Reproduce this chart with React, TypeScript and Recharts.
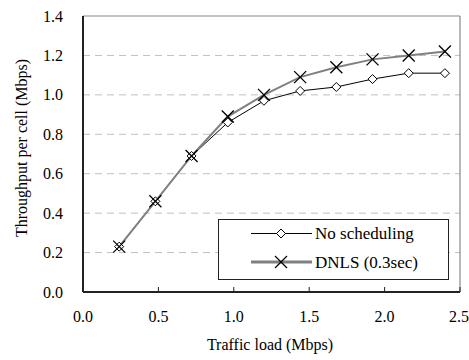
import React from 'react';
import { LineChart, Line, XAxis, YAxis, ReferenceLine, Legend, Customized } from 'recharts';

const trafficLoad = [0.24, 0.48, 0.72, 0.96, 1.2, 1.44, 1.68, 1.92, 2.16, 2.4];
const noScheduling = [0.23, 0.46, 0.69, 0.86, 0.97, 1.02, 1.04, 1.08, 1.11, 1.11];
const dnls = [0.23, 0.46, 0.69, 0.89, 1.0, 1.09, 1.14, 1.18, 1.2, 1.22];
const xTicks = [0, 0.5, 1.0, 1.5, 2.0, 2.5];
const yTicks = [0, 0.2, 0.4, 0.6, 0.8, 1.0, 1.2, 1.4];
const gridValues = [0.2, 0.4, 0.6, 0.8, 1.0, 1.2];
const seriesNames = ['No scheduling', 'DNLS (0.3sec)'];

const FONT = 'Times New Roman, Liberation Serif, serif';

const data = trafficLoad.map((x, i) => ({ x, noSched: noScheduling[i], dnls: dnls[i] }));

const Diamond = ({ cx, cy }: any) => {
    if (cx == null || cy == null) return null;
    const r = 4.5;
    return (
        <path
            d={`M${cx},${cy - r} L${cx + r},${cy} L${cx},${cy + r} L${cx - r},${cy} Z`}
            fill="#fff"
            stroke="#000"
            strokeWidth={1}
        />
    );
};

const Cross = ({ cx, cy }: any) => {
    if (cx == null || cy == null) return null;
    const r = 6;
    return (
        <g stroke="#000" strokeWidth={1.3}>
            <line x1={cx - r} y1={cy - r} x2={cx + r} y2={cy + r} />
            <line x1={cx - r} y1={cy + r} x2={cx + r} y2={cy - r} />
        </g>
    );
};

const XTick = ({ x, y, payload }: any) => (
    <text x={x} y={y} dy={12} textAnchor="middle" fontSize={16} fill="#000" style={{ fontFamily: FONT }}>
        {Number(payload.value).toFixed(1)}
    </text>
);

const YTick = ({ x, y, payload }: any) => (
    <text x={x} y={y} dy={5.5} textAnchor="end" fontSize={16} fill="#000" style={{ fontFamily: FONT }}>
        {Number(payload.value).toFixed(1)}
    </text>
);

const renderLegend = () => (
    <svg width={231} height={61} style={{ display: 'block' }}>
        <rect x={0.5} y={0.5} width={230} height={60} fill="#fff" stroke="#222" strokeWidth={1} />
        <line x1={33} y1={14.5} x2={94} y2={14.5} stroke="#000" strokeWidth={1} />
        <Diamond cx={63} cy={14.5} />
        <text x={97} y={20} fontSize={17} style={{ fontFamily: FONT }} fill="#000">
            {seriesNames[0]}
        </text>
        <line x1={33} y1={43} x2={94} y2={43} stroke="#808080" strokeWidth={3} />
        <Cross cx={63} cy={43} />
        <text x={97} y={49} fontSize={17} style={{ fontFamily: FONT }} fill="#000">
            {seriesNames[1]}
        </text>
    </svg>
);

const AxisTitles = () => (
    <g>
        <text x={22} y={148} dy={5} textAnchor="middle" fontSize={16} fill="#000" style={{ fontFamily: FONT }} transform="rotate(-90 22 148)">
            Throughput per cell (Mbps)
        </text>
        <text x={270} y={350} textAnchor="middle" fontSize={16} fill="#000" style={{ fontFamily: FONT }}>
            Traffic load (Mbps)
        </text>
    </g>
);

const App = () => (
    <div style={{ position: 'absolute', left: 0, top: 0 }}>
        <LineChart width={469} height={360} data={data} margin={{ top: 16, right: 9, bottom: 28, left: 0 }}>
            {gridValues.map((v) => (
                <ReferenceLine key={`g-${v}`} y={v} stroke="#c0c0c0" strokeDasharray="7 5" />
            ))}
            <ReferenceLine y={1.4} stroke="#888" strokeWidth={1.2} />
            <ReferenceLine x={2.5} stroke="#888" strokeWidth={1.2} />
            <XAxis
                dataKey="x"
                type="number"
                domain={[0, 2.5]}
                ticks={xTicks}
                height={40}
                tickSize={-5}
                tickMargin={23}
                stroke="#222"
                strokeWidth={2}
                tick={<XTick />}
                tickLine={{ stroke: '#222', strokeWidth: 1 }}
                allowDataOverflow
            />
            <YAxis
                type="number"
                domain={[0, 1.4]}
                ticks={yTicks}
                width={83}
                tickLine={false}
                tickMargin={14}
                stroke="#222"
                strokeWidth={2}
                tick={<YTick />}
                allowDataOverflow
            />
            <Line
                dataKey="noSched"
                name={seriesNames[0]}
                stroke="#000"
                strokeWidth={1}
                dot={<Diamond />}
                isAnimationActive={false}
            />
            <Line
                dataKey="dnls"
                name={seriesNames[1]}
                stroke="#808080"
                strokeWidth={2}
                dot={<Cross />}
                isAnimationActive={false}
            />
            <Legend
                layout="horizontal"
                verticalAlign="middle"
                content={renderLegend}
                wrapperStyle={{ left: 218, top: 219, width: 231, height: 61 }}
            />
            <Customized component={AxisTitles} />
        </LineChart>
    </div>
);

export default App;
